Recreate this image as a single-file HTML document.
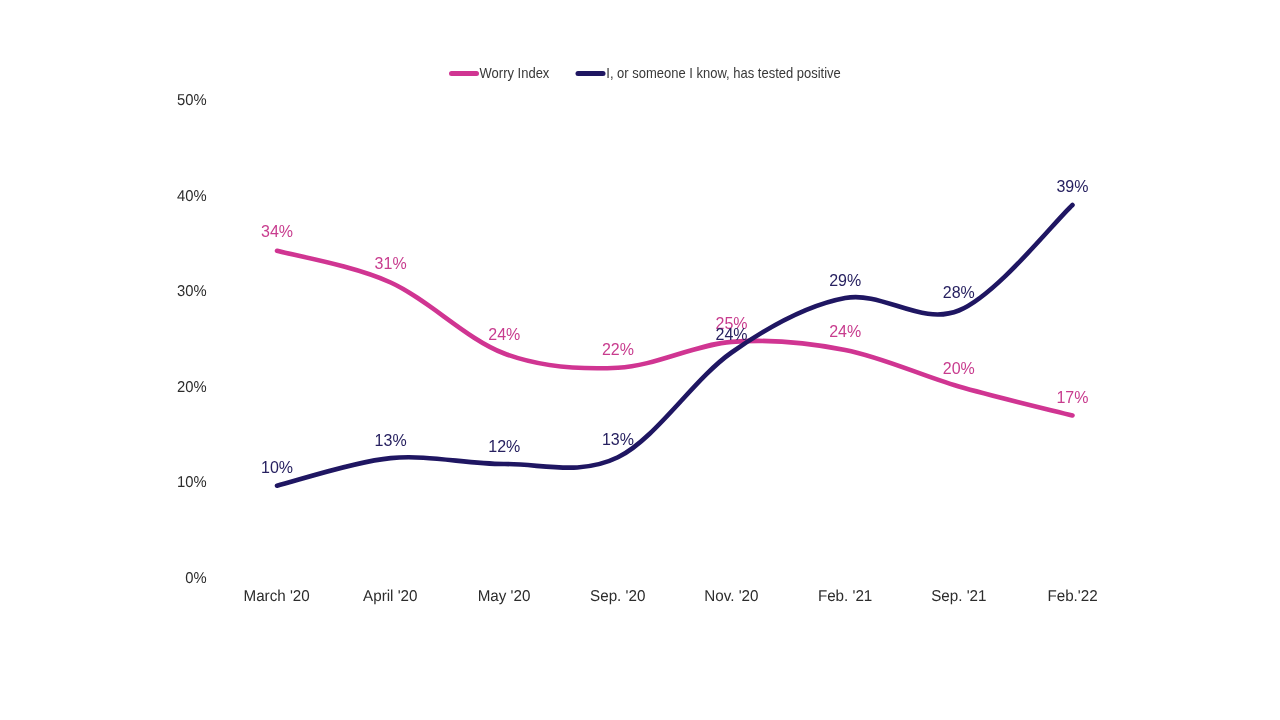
<!DOCTYPE html>
<html><head><meta charset="utf-8"><title>Chart</title>
<style>
html,body{margin:0;padding:0;background:#fff;}
body{width:1280px;height:720px;overflow:hidden;}
svg{display:block;font-family:"Liberation Sans",Arial,sans-serif;}
.ax{font-size:15.2px;fill:#2c2c2c;text-rendering:geometricPrecision;}
.ay{font-size:14.8px;}
.axe{text-anchor:end;}
.axm{text-anchor:middle;}
.lg{font-size:13px;fill:#383838;}
.dl{font-size:16px;text-anchor:middle;}
</style></head><body>
<svg style="will-change:transform" width="1280" height="720" viewBox="0 0 1280 720">
<rect width="1280" height="720" fill="#fff"/>
<text class="ax ay axe" transform="translate(206.60,583.00) scale(1,1.063)">0%</text>
<text class="ax ay axe" transform="translate(206.60,487.40) scale(1,1.063)">10%</text>
<text class="ax ay axe" transform="translate(206.60,391.80) scale(1,1.063)">20%</text>
<text class="ax ay axe" transform="translate(206.60,296.20) scale(1,1.063)">30%</text>
<text class="ax ay axe" transform="translate(206.60,200.60) scale(1,1.063)">40%</text>
<text class="ax ay axe" transform="translate(206.60,105.00) scale(1,1.063)">50%</text>
<text class="ax axm" transform="translate(276.60,601.00) scale(1,1.035)">March '20</text>
<text class="ax axm" transform="translate(390.30,601.00) scale(1,1.035)">April '20</text>
<text class="ax axm" transform="translate(504.00,601.00) scale(1,1.035)">May '20</text>
<text class="ax axm" transform="translate(617.70,601.00) scale(1,1.035)">Sep. '20</text>
<text class="ax axm" transform="translate(731.40,601.00) scale(1,1.035)">Nov. '20</text>
<text class="ax axm" transform="translate(845.10,601.00) scale(1,1.035)">Feb. '21</text>
<text class="ax axm" transform="translate(958.80,601.00) scale(1,1.035)">Sep. '21</text>
<text class="ax axm" transform="translate(1072.50,601.00) scale(1,1.035)">Feb.'22</text>
<line x1="451.5" y1="73.5" x2="476.5" y2="73.5" stroke="#d03592" stroke-width="5" stroke-linecap="round"/>
<text class="lg" transform="translate(479.60,77.90) scale(1,1.09)">Worry Index</text>
<line x1="578" y1="73.5" x2="603" y2="73.5" stroke="#1f1662" stroke-width="5" stroke-linecap="round"/>
<text class="lg" transform="translate(606.30,77.90) scale(1,1.09)">I, or someone I know, has tested positive</text>
<path d="M277.00,250.75 C295.94,256.04 352.76,265.38 390.64,282.50 C428.52,299.62 466.40,339.29 504.28,353.50 C542.16,367.71 580.04,369.68 617.92,367.75 C655.80,365.82 693.68,344.86 731.56,341.90 C769.44,338.94 807.32,342.57 845.20,350.00 C883.08,357.43 920.96,375.58 958.84,386.50 C996.72,397.42 1053.54,410.67 1072.48,415.50" fill="none" stroke="#d03592" stroke-width="4.6" stroke-linecap="round" stroke-linejoin="round"/>
<path d="M277.00,485.75 C295.94,481.14 352.76,461.73 390.64,458.10 C428.52,454.48 466.40,464.13 504.28,464.00 C542.16,463.87 580.04,475.88 617.92,457.30 C655.80,438.72 693.68,379.05 731.56,352.50 C769.44,325.95 807.32,305.00 845.20,298.00 C883.08,291.00 920.96,326.00 958.84,310.50 C996.72,295.00 1053.54,222.58 1072.48,205.00" fill="none" stroke="#1f1662" stroke-width="4.6" stroke-linecap="round" stroke-linejoin="round"/>
<text class="dl" x="277.00" y="237.00" fill="#c83c8e">34%</text>
<text class="dl" x="390.64" y="268.75" fill="#c83c8e">31%</text>
<text class="dl" x="504.28" y="340.00" fill="#c83c8e">24%</text>
<text class="dl" x="617.92" y="354.70" fill="#c83c8e">22%</text>
<text class="dl" x="731.56" y="329.15" fill="#c83c8e">25%</text>
<text class="dl" x="845.20" y="337.15" fill="#c83c8e">24%</text>
<text class="dl" x="958.84" y="373.75" fill="#c83c8e">20%</text>
<text class="dl" x="1072.48" y="402.85" fill="#c83c8e">17%</text>
<text class="dl" x="277.00" y="473.00" fill="#272160">10%</text>
<text class="dl" x="390.64" y="445.65" fill="#272160">13%</text>
<text class="dl" x="504.28" y="451.75" fill="#272160">12%</text>
<text class="dl" x="617.92" y="444.75" fill="#272160">13%</text>
<text class="dl" x="731.56" y="340.00" fill="#272160">24%</text>
<text class="dl" x="845.20" y="286.00" fill="#272160">29%</text>
<text class="dl" x="958.84" y="297.75" fill="#272160">28%</text>
<text class="dl" x="1072.48" y="192.25" fill="#272160">39%</text>
</svg></body></html>
